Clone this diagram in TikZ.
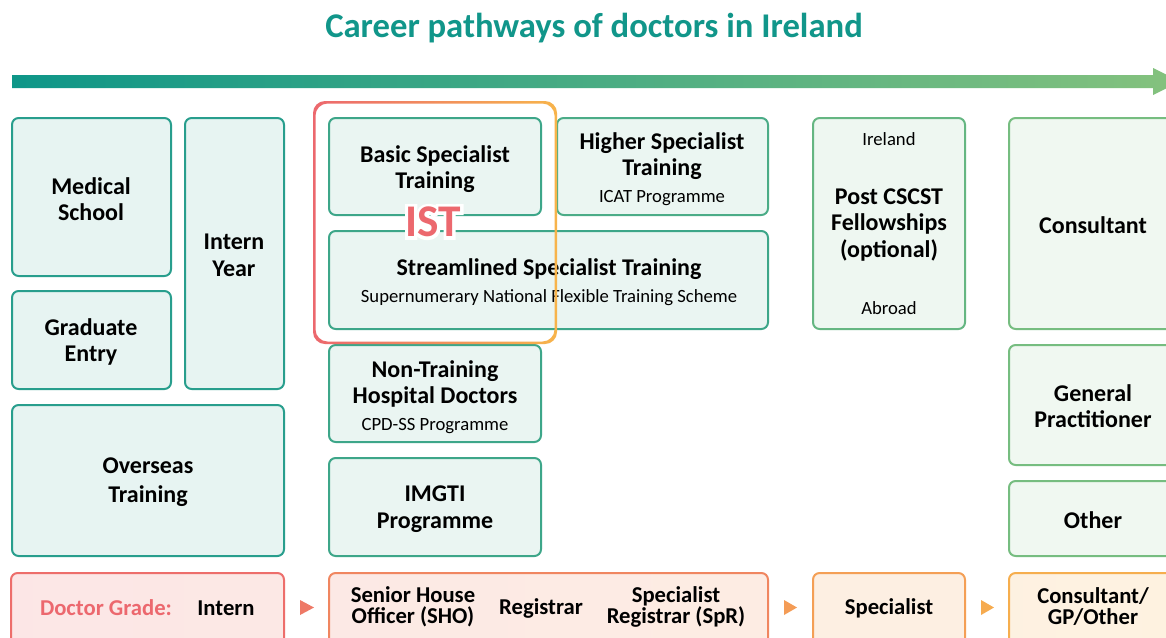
\documentclass[tikz,border=0pt]{standalone}
\usepackage{fontspec}
\setmainfont{Carlito}
\newfontfamily\isthalo{Carlito}[BoldFeatures={FakeBold=14}]
\usetikzlibrary{fit}
\definecolor{T}{RGB}{32,155,142}
\definecolor{G}{RGB}{128,193,126}
\definecolor{R}{RGB}{236,104,110}
\definecolor{O}{RGB}{247,180,75}
\definecolor{titlecol}{RGB}{17,150,138}
\definecolor{arrL}{RGB}{14,150,136}
\definecolor{arrR}{RGB}{133,194,126}
\colorlet{bc1}{G!8!T}
\colorlet{bc2}{G!30!T}
\colorlet{bc3}{G!45!T}
\colorlet{bc4}{G!72!T}
\colorlet{bc5}{G!90!T}
\colorlet{fc1}{bc1!11!white}
\colorlet{fc2}{bc2!11!white}
\colorlet{fc3}{bc3!11!white}
\colorlet{fc4}{bc4!11!white}
\colorlet{fc5}{bc5!11!white}
\colorlet{ob1}{O!8!R}
\colorlet{ob2}{O!40!R}
\colorlet{ob3}{O!72!R}
\colorlet{ob4}{O!92!R}
\colorlet{m1}{O!22!R}
\colorlet{m2}{O!28!R}
\colorlet{m3}{O!55!R}
\colorlet{of1l}{ob1!17!white}
\colorlet{of1r}{m1!17!white}
\colorlet{of2l}{m2!17!white}
\colorlet{of2r}{m3!17!white}
\colorlet{of3}{ob3!17!white}
\colorlet{of4l}{ob4!17!white}
\colorlet{of4r}{O!17!white}
\tikzset{
  gbox/.style={draw, line width=1.5pt, rounded corners=5pt, inner sep=0pt},
  mtxt/.style={font=\bfseries\fontsize{18}{20}\selectfont, align=center, text=black, inner sep=0pt},
  stxt/.style={font=\fontsize{14}{16}\selectfont, text=black, inner sep=0pt},
  obox/.style={draw, line width=1.5pt, rounded corners=5pt, inner sep=0pt},
  otxt/.style={font=\bfseries\fontsize{17}{15.75}\selectfont, align=center, text=black, inner sep=0pt},
  isttxt/.style={font=\bfseries\fontsize{34}{36}\selectfont, inner sep=0pt},
}
\newcommand{\subl}[1]{{\normalfont\fontsize{14}{16}\selectfont #1}}
\begin{document}
\begin{tikzpicture}[x=0.75pt,y=-0.75pt]
\clip (0,0) rectangle (1166,637);
\fill[white] (0,0) rectangle (1166,637);

% title
\node[font=\bfseries\fontsize{26}{30}\selectfont, text=titlecol, inner sep=0pt] (title) at (594,28) {Career pathways of doctors in Ireland};

% timeline arrow
\shade[left color=arrL, right color=arrR]
  (12,75) -- (1153,75) -- (1153,68) -- (1180,81.5) -- (1153,95) -- (1153,88) -- (12,88) -- cycle;

% boxes
\node[gbox, draw=bc1, fill=fc1, fit={(12,118)(171,276)}] (med) {};
\node[gbox, draw=bc1, fill=fc1, fit={(185,118)(284,389)}] (intern) {};
\node[gbox, draw=bc1, fill=fc1, fit={(12,291)(171,389)}] (grad) {};
\node[gbox, draw=bc1, fill=fc1, fit={(12,405)(284,556)}] (overseas) {};
\node[gbox, draw=bc2, fill=fc2, fit={(329,118)(541,215)}] (bst) {};
\node[gbox, draw=bc3, fill=fc3, fit={(557,118)(768,215)}] (hst) {};
\node[gbox, draw=bc2, fill=fc2, fit={(329,231)(768,329)}] (sst) {};
\node[gbox, draw=bc2, fill=fc2, fit={(329,345)(541,442)}] (ntd) {};
\node[gbox, draw=bc2, fill=fc2, fit={(329,458)(541,556)}] (imgti) {};
\node[gbox, draw=bc4, fill=fc4, fit={(813,118)(965,329)}] (post) {};
\node[gbox, draw=bc5, fill=fc5, fit={(1009,118)(1177,329)}] (cons) {};
\node[gbox, draw=bc5, fill=fc5, fit={(1009,345)(1177,465)}] (gp) {};
\node[gbox, draw=bc5, fill=fc5, fit={(1009,481)(1177,556)}] (other) {};

% box texts
\node[mtxt] (tmed) at (91,199) {Medical\\School};
\node[mtxt] (tintern) at (234,255) {Intern\\Year};
\node[mtxt] (tgrad) at (91,342) {Graduate\\Entry};
\node[mtxt] (tover) at (148,482) {Overseas\\[2pt]Training};
\node[mtxt] (tbst) at (435,169) {Basic Specialist\\Training};
\node[mtxt] (thst) at (662,169) {Higher Specialist\\Training\\\subl{ICAT Programme}};
\node[mtxt] (tsst) at (549,282) {Streamlined Specialist Training\\\subl{Supernumerary National Flexible Training Scheme}};
\node[mtxt] (tntd) at (435,397) {Non-Training\\Hospital Doctors\\\subl{CPD-SS Programme}};
\node[mtxt] (timgti) at (435,509) {IMGTI\\Programme};
\node[mtxt] (tpost) at (889,225) {Post CSCST\\Fellowships\\(optional)};
\node[stxt] (ireland) at (889,139) {Ireland};
\node[stxt] (abroad) at (889,308) {Abroad};
\node[mtxt] (tcons) at (1093,225) {Consultant};
\node[mtxt] (tgp) at (1093,406) {General\\Practitioner};
\node[mtxt] (tother) at (1093,520) {Other};

% IST outline with gradient stroke
\shade[left color=R, right color=O, even odd rule, rounded corners=9pt]
  (313,101) rectangle (557,344)
  (315.5,103.5) rectangle (554.5,341.5);
\path (433,222) coordinate (istc);
\node[isttxt, text=white, font=\isthalo\bfseries\fontsize{34}{36}\selectfont] (isthalo) at (istc) {IST};
\node[isttxt, text=R] (ist) at (istc) {IST};

% bottom grade row
\node[obox, draw=ob1, left color=of1l, right color=of1r, fit={(11,573)(284,652)}] (g1) {};
\node[otxt, text=R] (dg) at (106,608) {Doctor Grade:};
\node[otxt] (gint) at (226,608) {Intern};
\node[obox, draw=ob2, left color=of2l, right color=of2r, fit={(329,573)(768,652)}] (g2) {};
\node[otxt] (sho) at (413,607) {Senior House\\Officer (SHO)};
\node[otxt] (reg) at (541,608) {Registrar};
\node[otxt] (spr) at (676,607) {Specialist\\Registrar (SpR)};
\node[obox, draw=ob3, fill=of3, fit={(813,573)(965,652)}] (g3) {};
\node[otxt] (spec) at (889,608) {Specialist};
\node[obox, draw=ob4, left color=of4l, right color=of4r, fit={(1009,573)(1177,652)}] (g4) {};
\node[otxt] (cgo) at (1093,607) {Consultant/\\GP/Other};

% small triangles
\fill[m1] (300,600) -- (314,607.5) -- (300,615) -- cycle;
\fill[O!68!R] (784,600) -- (797,607.5) -- (784,615) -- cycle;
\fill[O!88!R] (981,600) -- (994,607.5) -- (981,615) -- cycle;
\end{tikzpicture}
\end{document}
